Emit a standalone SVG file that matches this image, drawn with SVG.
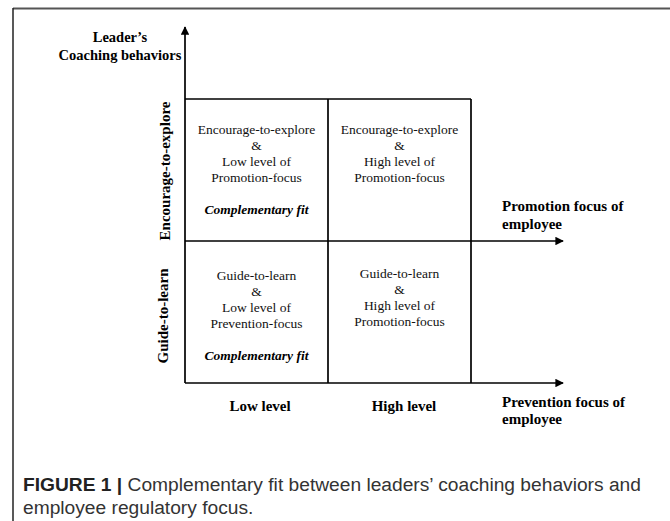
<svg xmlns="http://www.w3.org/2000/svg" width="670" height="521" viewBox="0 0 670 521">
  <style>
    .axis { stroke: #000; stroke-width: 1.7; fill: none; }
    .cell { stroke: #000; stroke-width: 1.7; fill: none; }
    .lbl { font-family: "Liberation Serif", "Times New Roman", serif; font-weight: bold; font-size: 15px; fill: #000; }
    .body { font-family: "Liberation Serif", "Times New Roman", serif; font-size: 13.5px; fill: #111; text-anchor: middle; }
    .fit { font-family: "Liberation Serif", "Times New Roman", serif; font-size: 13.5px; font-weight: bold; font-style: italic; fill: #000; text-anchor: middle; }
    .cap { font-family: "Liberation Sans", Arial, sans-serif; font-size: 19.2px; fill: #333; }
  </style>
  <defs>
    <marker id="arrow" viewBox="0 0 10 10" refX="9" refY="5" markerWidth="5" markerHeight="5" orient="auto" markerUnits="strokeWidth">
      <path d="M0,0 L10,5 L0,10 Z" fill="#000"/>
    </marker>
  </defs>

  <rect width="670" height="521" fill="#fff"/>

  <!-- figure frame -->
  <line x1="13" y1="8.5" x2="670" y2="8.5" stroke="#555" stroke-width="2"/>
  <line x1="13" y1="8" x2="13" y2="521" stroke="#222" stroke-width="1.5"/>

  <!-- axes and grid lines -->
  <g id="connectors">
    <line class="axis" x1="185" y1="383" x2="185" y2="27" marker-end="url(#arrow)"/>
    <line class="axis" x1="185" y1="241" x2="563" y2="241" marker-end="url(#arrow)"/>
    <line class="axis" x1="185" y1="383" x2="563" y2="383" marker-end="url(#arrow)"/>
    <line class="cell" x1="185" y1="99" x2="471" y2="99"/>
    <line class="cell" x1="328" y1="99" x2="328" y2="383"/>
    <line class="cell" x1="471" y1="99" x2="471" y2="383"/>
  </g>

  <!-- axis titles -->
  <g id="y-axis-title" class="lbl" text-anchor="middle">
    <text x="120" y="42" style="font-size:14.5px">Leader’s</text>
    <text x="120" y="60" style="font-size:14.5px">Coaching behaviors</text>
  </g>
  <g id="x-axis-promotion" class="lbl">
    <text x="502" y="211">Promotion focus of</text>
    <text x="502" y="229">employee</text>
  </g>
  <g id="x-axis-prevention" class="lbl">
    <text x="502" y="407">Prevention focus of</text>
    <text x="502" y="424">employee</text>
  </g>

  <!-- row labels -->
  <g id="row-encourage">
    <text class="lbl" text-anchor="middle" transform="translate(170,171) rotate(-90)">Encourage-to-explore</text>
  </g>
  <g id="row-guide">
    <text class="lbl" text-anchor="middle" transform="translate(168,316) rotate(-90)">Guide-to-learn</text>
  </g>

  <!-- column labels -->
  <g id="col-low">
    <text class="lbl" x="260" y="411" text-anchor="middle">Low level</text>
  </g>
  <g id="col-high">
    <text class="lbl" x="404" y="411" text-anchor="middle">High level</text>
  </g>

  <!-- quadrant cells -->
  <g id="cell-encourage-low">
    <text class="body" x="256.5" y="134">Encourage-to-explore</text>
    <text class="body" x="256.5" y="150">&amp;</text>
    <text class="body" x="256.5" y="166">Low level of</text>
    <text class="body" x="256.5" y="182">Promotion-focus</text>
    <text class="fit" x="256.5" y="214">Complementary fit</text>
  </g>
  <g id="cell-encourage-high">
    <text class="body" x="399.5" y="134">Encourage-to-explore</text>
    <text class="body" x="399.5" y="150">&amp;</text>
    <text class="body" x="399.5" y="166">High level of</text>
    <text class="body" x="399.5" y="182">Promotion-focus</text>
  </g>
  <g id="cell-guide-low">
    <text class="body" x="256.5" y="280">Guide-to-learn</text>
    <text class="body" x="256.5" y="296">&amp;</text>
    <text class="body" x="256.5" y="312">Low level of</text>
    <text class="body" x="256.5" y="328">Prevention-focus</text>
    <text class="fit" x="256.5" y="360">Complementary fit</text>
  </g>
  <g id="cell-guide-high">
    <text class="body" x="399.5" y="278">Guide-to-learn</text>
    <text class="body" x="399.5" y="294">&amp;</text>
    <text class="body" x="399.5" y="310">High level of</text>
    <text class="body" x="399.5" y="326">Promotion-focus</text>
  </g>

  <!-- caption -->
  <g id="caption" class="cap">
    <text x="23" y="491"><tspan font-weight="bold" fill="#222">FIGURE 1 |</tspan> Complementary fit between leaders’ coaching behaviors and</text>
    <text x="23" y="514">employee regulatory focus.</text>
  </g>
</svg>
